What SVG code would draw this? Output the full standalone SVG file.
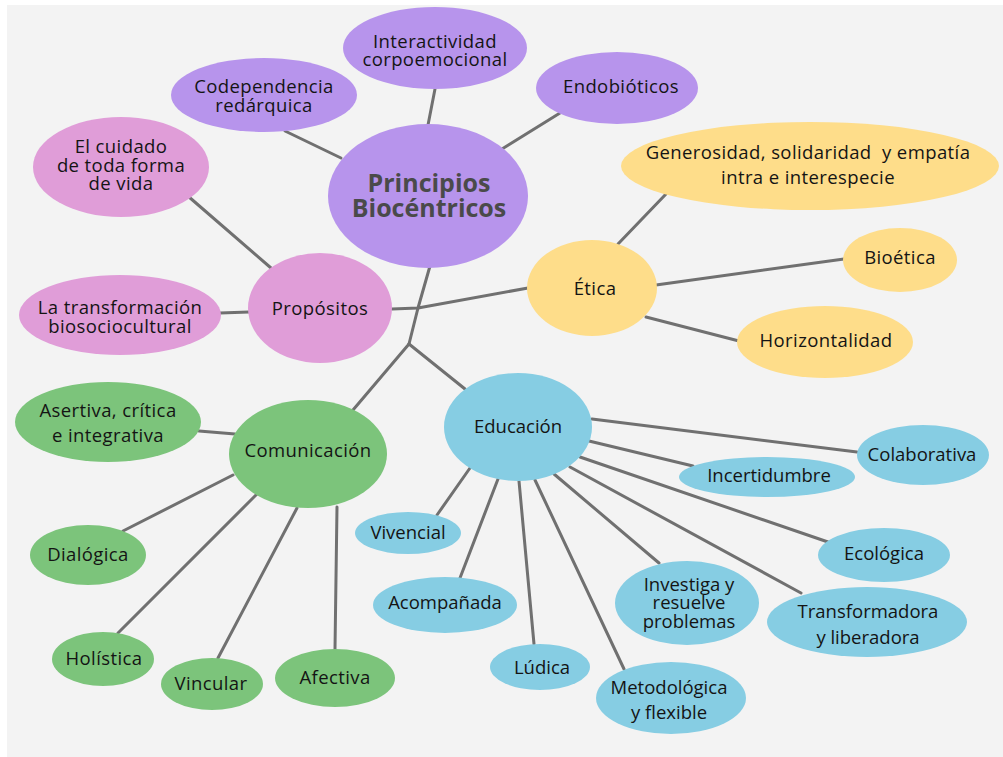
<svg xmlns="http://www.w3.org/2000/svg" width="1003" height="757" viewBox="0 0 1003 757">
<style>
.bg{fill:#f3f3f3}
.c line,.c polyline{stroke:#707070;stroke-width:3;fill:none;stroke-linecap:round;stroke-linejoin:round}
.pu{fill:#b794ec}
.pk{fill:#e09dd8}
.ye{fill:#fedd8a}
.gr{fill:#7cc47b}
.bl{fill:#86cde3}
text{font-family:"Open Sans","Noto Sans",sans-serif;font-size:18.5px;fill:#141414;text-anchor:middle;letter-spacing:0.4px}
.edu text{letter-spacing:0}
.big{font-size:25px;font-weight:bold;fill:#4a4a4a;letter-spacing:0}
</style>
<rect width="1003" height="757" fill="#ffffff"/>
<rect class="bg" x="7" y="5" width="996" height="752"/>
<g id="connectors" class="c">
<line x1="285" y1="131" x2="341" y2="158"/>
<line x1="435" y1="89" x2="428" y2="125"/>
<line x1="560" y1="113" x2="502" y2="149"/>
<polyline points="430,266 418,308 409,344"/>
<polyline points="392,309 418,308 528,288"/>
<line x1="189" y1="197" x2="271" y2="268"/>
<line x1="220" y1="313" x2="249" y2="312"/>
<line x1="618" y1="244" x2="666" y2="194"/>
<line x1="656" y1="285" x2="844" y2="259"/>
<line x1="646" y1="317" x2="739" y2="341"/>
<line x1="409" y1="344" x2="353" y2="410"/>
<line x1="409" y1="344" x2="465" y2="389"/>
<line x1="199" y1="431" x2="235" y2="434"/>
<line x1="233" y1="475" x2="123" y2="531"/>
<line x1="257" y1="494" x2="118" y2="633"/>
<line x1="297" y1="508" x2="218" y2="658"/>
<line x1="337" y1="507" x2="335" y2="649"/>
<line x1="470" y1="468" x2="437" y2="515"/>
<line x1="498" y1="479" x2="460" y2="578"/>
<line x1="519" y1="481" x2="534" y2="644"/>
<line x1="535" y1="480" x2="624" y2="669"/>
<line x1="554" y1="474" x2="659" y2="563"/>
<line x1="570" y1="467" x2="801" y2="593"/>
<line x1="580" y1="457" x2="828" y2="542"/>
<line x1="589" y1="441" x2="693" y2="466"/>
<line x1="592" y1="419" x2="857" y2="452"/>
</g>
<g id="principios">
<ellipse class="pu" cx="428" cy="196" rx="100" ry="72"/>
<text class="big" x="429" y="192">Principios</text>
<text class="big" x="429" y="217">Biocéntricos</text>
</g>
<g id="interactividad">
<ellipse class="pu" cx="435" cy="48" rx="92" ry="41"/>
<text x="435" y="48">Interactividad</text>
<text x="435" y="66">corpoemocional</text>
</g>
<g id="codependencia">
<ellipse class="pu" cx="264" cy="95" rx="93" ry="37"/>
<text x="264" y="93">Codependencia</text>
<text x="264" y="112">redárquica</text>
</g>
<g id="endobioticos">
<ellipse class="pu" cx="617" cy="88" rx="81" ry="36"/>
<text x="621" y="93">Endobióticos</text>
</g>
<g id="cuidado">
<ellipse class="pk" cx="121" cy="167" rx="88" ry="50"/>
<text x="121" y="153">El cuidado</text>
<text x="121" y="172">de toda forma</text>
<text x="121" y="190">de vida</text>
</g>
<g id="propositos">
<ellipse class="pk" cx="320" cy="308" rx="72" ry="55"/>
<text x="320" y="315">Propósitos</text>
</g>
<g id="transformacion">
<ellipse class="pk" cx="120" cy="315" rx="101" ry="40"/>
<text x="120" y="314">La transformación</text>
<text x="120" y="333">biosociocultural</text>
</g>
<g id="etica">
<ellipse class="ye" cx="592" cy="288" rx="65" ry="48"/>
<text x="595" y="295">Ética</text>
</g>
<g id="generosidad">
<ellipse class="ye" cx="810" cy="166" rx="189" ry="44"/>
<text x="808" y="159" xml:space="preserve">Generosidad, solidaridad  y empatía</text>
<text x="808" y="184">intra e interespecie</text>
</g>
<g id="bioetica">
<ellipse class="ye" cx="900" cy="260" rx="57" ry="32"/>
<text x="900" y="264">Bioética</text>
</g>
<g id="horizontalidad">
<ellipse class="ye" cx="825" cy="342" rx="88" ry="36"/>
<text x="826" y="347">Horizontalidad</text>
</g>
<g id="comunicacion">
<ellipse class="gr" cx="308" cy="454" rx="79" ry="54"/>
<text x="308" y="457">Comunicación</text>
</g>
<g id="asertiva">
<ellipse class="gr" cx="108" cy="422" rx="93" ry="40"/>
<text x="108" y="417">Asertiva, crítica</text>
<text x="108" y="442">e integrativa</text>
</g>
<g id="dialogica">
<ellipse class="gr" cx="88" cy="555" rx="58" ry="30"/>
<text x="88" y="561">Dialógica</text>
</g>
<g id="holistica">
<ellipse class="gr" cx="103" cy="659" rx="51" ry="27"/>
<text x="104" y="665">Holística</text>
</g>
<g id="vincular">
<ellipse class="gr" cx="212" cy="684" rx="51" ry="26"/>
<text x="211" y="690">Vincular</text>
</g>
<g id="afectiva">
<ellipse class="gr" cx="335" cy="678" rx="60" ry="29"/>
<text x="335" y="684">Afectiva</text>
</g>
<g id="educacion" class="edu">
<ellipse class="bl" cx="518" cy="427" rx="74" ry="54"/>
<text x="518" y="433">Educación</text>
</g>
<g id="colaborativa" class="edu">
<ellipse class="bl" cx="923" cy="455" rx="66" ry="30"/>
<text x="922" y="461">Colaborativa</text>
</g>
<g id="incertidumbre" class="edu">
<ellipse class="bl" cx="767" cy="477" rx="88" ry="20"/>
<text x="769" y="482">Incertidumbre</text>
</g>
<g id="ecologica" class="edu">
<ellipse class="bl" cx="884" cy="555" rx="66" ry="27"/>
<text x="884" y="560">Ecológica</text>
</g>
<g id="vivencial" class="edu">
<ellipse class="bl" cx="408" cy="533" rx="53" ry="21"/>
<text x="408" y="539">Vivencial</text>
</g>
<g id="acompanada" class="edu">
<ellipse class="bl" cx="445" cy="605" rx="72" ry="28"/>
<text x="445" y="609">Acompañada</text>
</g>
<g id="ludica" class="edu">
<ellipse class="bl" cx="540" cy="667" rx="50" ry="23"/>
<text x="542" y="674">Lúdica</text>
</g>
<g id="metodologica" class="edu">
<ellipse class="bl" cx="671" cy="698" rx="75" ry="36"/>
<text x="669" y="694">Metodológica</text>
<text x="669" y="719">y flexible</text>
</g>
<g id="investiga" class="edu">
<ellipse class="bl" cx="687" cy="603" rx="72" ry="42"/>
<text x="689" y="591">Investiga y</text>
<text x="689" y="609">resuelve</text>
<text x="689" y="628">problemas</text>
</g>
<g id="transformadora" class="edu">
<ellipse class="bl" cx="867" cy="622" rx="100" ry="35"/>
<text x="868" y="618">Transformadora</text>
<text x="868" y="644">y liberadora</text>
</g>
</svg>
